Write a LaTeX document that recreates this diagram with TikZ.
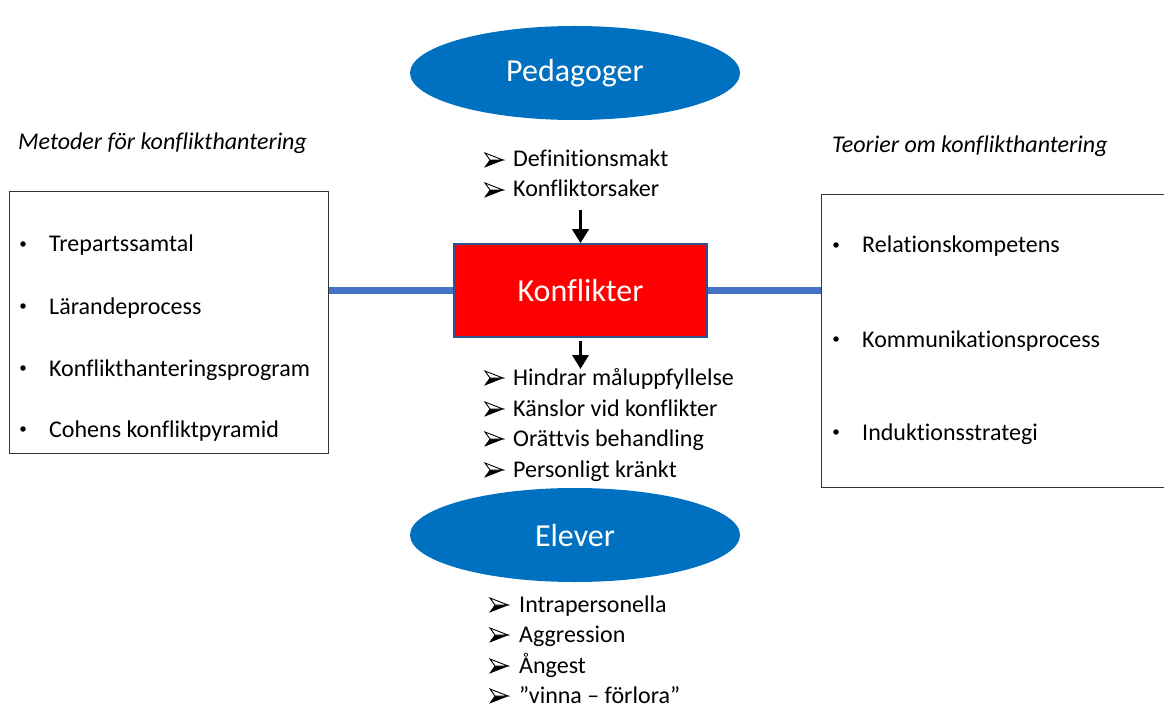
\documentclass[tikz,border=0pt]{standalone}
\usepackage{fontspec}
\setmainfont{Carlito}[Ligatures=NoCommon]
\usetikzlibrary{arrows.meta,shapes.geometric}
\definecolor{ellblue}{HTML}{0070C0}
\definecolor{linkblue}{HTML}{4472C4}
\definecolor{rectborder}{HTML}{2F528F}
\tikzset{
  arrb/.pic={
    \filldraw[fill=black, line width=0.6pt, line join=miter] (5,0) -- (18,0) -- (0,7) -- cycle;
    \filldraw[fill=white, line width=0.9pt, line join=miter] (0,-7) -- (18,0) -- (5,0) -- cycle;
  }
}
\begin{document}
\begin{tikzpicture}[x=1pt,y=-1pt,
  ell/.style={ellipse, fill=ellblue, minimum width=330pt, minimum height=94pt, inner sep=0pt, text=white, font=\fontsize{32}{38}\selectfont},
  konfbox/.style={rectangle, fill=red, draw=rectborder, line width=1.5pt, minimum width=253pt, minimum height=93pt, inner sep=0pt, text=white, font=\fontsize{32}{38}\selectfont},
  frame/.style={rectangle, draw=black!80, line width=1pt, inner sep=0pt},
  item/.style={anchor=base west, inner sep=0pt, font=\fontsize{24}{30}\selectfont},
  head/.style={anchor=base west, inner sep=0pt, font=\itshape\fontsize{24}{30}\selectfont},
  dot/.style={circle, fill=black, inner sep=0pt, minimum size=5.5pt},
  link/.style={draw=linkblue, line width=7pt},
  down/.style={-{Triangle[width=16pt,length=14pt]}, line width=3.5pt}
]
\useasboundingbox (0,0) rectangle (1164,711);

% boxes
\node[frame, minimum width=319pt, minimum height=261pt] (leftbox) at (168.5,322.5) {};
\node[frame, minimum width=344pt, minimum height=292pt] (rightbox) at (993,341) {};

% central rectangle and links
\node[konfbox] (konf) at (580.5,290.5) {Konflikter};
\draw[link] (leftbox.east |- konf.west) -- (konf.west);
\draw[link] (konf.east) -- (rightbox.west |- konf.east);

% ellipses
\node[ell] (ped) at (575,73) {Pedagoger};
\node[ell] (elev) at (575,535) {Elever};

% arrows
\coordinate (a1) at (580.5,210);
\coordinate (a2) at (580.5,369);
\draw[down] (a1) -- (konf.north);
\draw[down, shorten <=3pt] (konf.south) -- (a2);

% headings
\node[head] (h1) at (18,150) {Metoder för konflikthantering};
\node[head] (h2) at (832,153) {Teorier om konflikthantering};

% left box items
\foreach \t/\yy [count=\i] in {Trepartssamtal/252, Lärandeprocess/314, Konflikthanteringsprogram/376, Cohens konfliktpyramid/437}{
  \node[dot] (lb\i) at (23,\yy-8) {};
  \node[item] (lt\i) at (49,\yy) {\t};
}

% right box items
\foreach \t/\yy [count=\i] in {Relationskompetens/253, Kommunikationsprocess/347, Induktionsstrategi/440}{
  \node[dot] (rb\i) at (836,\yy-8) {};
  \node[item] (rt\i) at (862,\yy) {\t};
}

% list under Pedagoger
\foreach \t/\yy [count=\i] in {Definitionsmakt/167, Konfliktorsaker/197}{
  \pic at (485,\yy-7) {arrb};
  \node[item] (p\i) at (513,\yy) {\t};
}

% list under Konflikter
\foreach \t/\yy [count=\i] in {Hindrar måluppfyllelse/385, Känslor vid konflikter/416, Orättvis behandling/446, Personligt kränkt/477}{
  \pic at (485,\yy-7) {arrb};
  \node[item] (k\i) at (513,\yy) {\t};
}

% list under Elever
\foreach \t/\yy [count=\i] in {Intrapersonella/612, Aggression/642, Ångest/673, ”vinna – förlora”/703}{
  \pic at (490,\yy-7) {arrb};
  \node[item] (e\i) at (519,\yy) {\t};
}
\end{tikzpicture}
\end{document}
